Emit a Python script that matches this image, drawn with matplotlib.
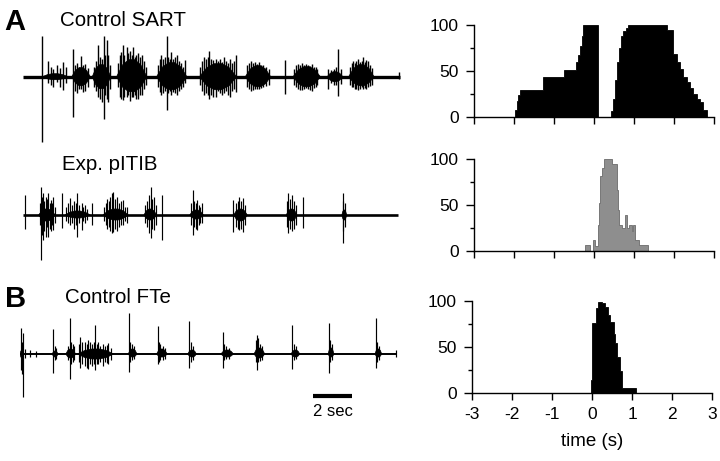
import matplotlib
matplotlib.use('Agg')
import matplotlib.pyplot as plt
from matplotlib.ticker import MultipleLocator

plt.rcParams['font.family'] = ['Liberation Sans', 'DejaVu Sans']

# ---------------- data: histograms (percent of cycles vs time, s) ----------------
sart_edges = [-1.97, -1.93, -1.89, -1.85, -1.27, -0.75, -0.45, -0.40, -0.35, -0.31, -0.27,
              0.11, 0.43, 0.47, 0.52, 0.57, 0.62, 0.67, 0.73, 0.79, 0.86, 1.82, 1.98,
              2.07, 2.15, 2.23, 2.32, 2.40, 2.48, 2.57, 2.65, 2.73, 2.82]
sart_vals = [8, 17, 24, 29, 44, 51, 60, 67, 77, 88, 100, 0, 6, 20, 40, 60, 75, 88, 94, 97,
             100, 95, 69, 60, 52, 44, 38, 31, 25, 20, 16, 8]

pitib_edges = [-0.225, -0.10, -0.03, 0.025, 0.09, 0.12, 0.15, 0.19, 0.26, 0.46, 0.57, 0.60,
               0.625, 0.70, 0.775, 0.82, 0.88, 0.94, 0.98, 1.025, 1.13, 1.34]
pitib_vals = [6, 0, 12, 5, 28, 52, 81, 90, 100, 95, 66, 45, 28, 25, 39, 25, 28, 22, 28, 12, 6]

fte_edges = [-0.03, 0.0, 0.09, 0.15, 0.235, 0.32, 0.38, 0.44, 0.53, 0.57, 0.61, 0.68, 0.73, 1.09]
fte_vals = [14, 76, 92, 99, 97, 93, 84, 77, 64, 54, 39, 24, 5]

hist_xticks = [-3, -2, -1, 0, 1, 2, 3]
hist_xlabels = ['-3', '-2', '-1', '0', '1', '2', '3']
hist_yticks = [0, 50, 100]

# ---------------- data: nerve recordings (time s, amplitude a.u.) ----------------
# burst cores: (start, end, upper, lower)
sart_bursts = [(1.0, 2.3, 3, 3), (2.5, 3.45, 9, 9), (3.55, 4.5, 12, 12), (4.8, 6.35, 17, 15),
               (6.85, 8.4, 14, 13), (9.05, 10.95, 13, 13), (11.4, 12.7, 11, 10),
               (13.85, 15.25, 10, 10), (15.6, 16.4, 5, 5), (16.7, 18.0, 12, 9)]
# single spikes: (time, up, down)
sart_spikes = [
    (0.96, 41, 65), (1.30, 16, 6), (1.45, 10, 8), (1.55, 8, 10), (1.73, 12, 5), (1.90, 9, 10),
    (2.07, 15, 13), (2.2, 10, 6),
    (2.55, 28, 40), (2.65, 12, 14), (2.75, 14, 16), (2.85, 10, 12), (2.97, 21, 12),
    (3.08, 12, 15), (3.2, 13, 14), (3.32, 9, 10),
    (3.62, 10, 10), (3.75, 16, 14), (3.86, 32, 20), (3.95, 20, 22), (4.05, 18, 25),
    (4.15, 41, 42), (4.22, 22, 18), (4.29, 37, 22), (4.38, 22, 25), (4.45, 12, 12),
    (4.85, 14, 10), (4.95, 22, 20), (5.0, 25, 22), (5.11, 32, 23), (5.2, 22, 20),
    (5.32, 30, 20), (5.4, 24, 18), (5.5, 26, 24), (5.58, 22, 20), (5.66, 30, 20),
    (5.75, 20, 18), (5.82, 22, 22), (5.9, 24, 22), (6.0, 20, 18), (6.1, 22, 18),
    (6.2, 16, 12), (6.3, 10, 8),
    (6.9, 12, 10), (7.0, 18, 15), (7.1, 22, 18), (7.2, 18, 16), (7.28, 20, 14),
    (7.37, 41, 33), (7.45, 20, 16), (7.55, 18, 14), (7.6, 25, 18), (7.7, 18, 15),
    (7.8, 20, 16), (7.9, 22, 18), (8.0, 16, 14), (8.1, 14, 12), (8.2, 10, 10), (8.31, 17, 6),
    (9.1, 10, 8), (9.2, 16, 14), (9.3, 20, 18), (9.4, 18, 16), (9.48, 20, 18),
    (9.56, 26, 22), (9.65, 18, 18), (9.75, 17, 20), (9.9, 18, 20), (10.0, 16, 14),
    (10.1, 18, 16), (10.2, 15, 18), (10.3, 20, 16), (10.4, 16, 14), (10.5, 14, 18),
    (10.6, 18, 20), (10.7, 14, 14), (10.8, 16, 12), (10.92, 22, 15),
    (11.5, 12, 10), (11.6, 14, 12), (11.7, 16, 14), (11.8, 14, 13), (11.9, 15, 12),
    (12.0, 13, 12), (12.1, 15, 12), (12.2, 12, 11), (12.3, 12, 10), (12.45, 10, 9),
    (12.6, 8, 8), (13.44, 17, 17),
    (13.9, 8, 8), (14.0, 12, 10), (14.1, 13, 12), (14.2, 12, 13), (14.3, 14, 13),
    (14.4, 12, 12), (14.5, 13, 11), (14.6, 12, 12), (14.7, 11, 13), (14.8, 13, 14),
    (14.9, 10, 11), (15.0, 10, 10), (15.1, 8, 8),
    (15.66, 8, 12), (15.8, 7, 6), (15.95, 8, 8), (16.05, 10, 8), (16.17, 28, 19), (16.3, 8, 7),
    (16.75, 10, 8), (16.85, 14, 10), (16.9, 16, 10), (17.0, 14, 12), (17.1, 16, 12),
    (17.2, 18, 13), (17.3, 15, 12), (17.38, 16, 10), (17.45, 20, 12), (17.55, 15, 11),
    (17.6, 17, 12), (17.7, 16, 10), (17.8, 12, 9), (17.9, 9, 8), (19.3, 5, 2)]
sart_end = 19.33

pitib_bursts = [(0.8, 1.65, 6, 6), (2.15, 3.45, 4, 3), (4.1, 5.4, 6, 5), (6.2, 6.85, 6, 5),
                (8.55, 9.25, 5, 4), (10.8, 11.5, 6, 6), (13.5, 14.05, 6, 6), (16.35, 16.6, 5, 5)]
pitib_spikes = [
    (0.12, 20, 14),
    (0.85, 12, 10), (0.91, 28, 45), (0.97, 18, 20), (1.04, 22, 25), (1.1, 14, 16),
    (1.18, 18, 22), (1.24, 16, 12), (1.30, 22, 22), (1.38, 12, 14), (1.45, 15, 16),
    (1.5, 12, 10), (1.56, 18, 15), (1.62, 8, 8), (1.98, 22, 13),
    (2.2, 8, 6), (2.3, 12, 8), (2.41, 17, 10), (2.5, 10, 8), (2.6, 14, 14), (2.7, 12, 10),
    (2.79, 22, 22), (2.88, 10, 8), (3.01, 12, 15), (3.1, 8, 6), (3.2, 10, 8), (3.3, 6, 5),
    (3.52, 12, 10),
    (4.15, 8, 6), (4.25, 12, 10), (4.3, 16, 14), (4.4, 14, 12), (4.48, 18, 16),
    (4.55, 22, 18), (4.63, 23, 17), (4.7, 16, 14), (4.8, 18, 16), (4.9, 12, 12),
    (5.0, 14, 10), (5.15, 15, 10), (5.25, 8, 6), (5.35, 8, 8),
    (6.25, 10, 8), (6.35, 14, 12), (6.45, 20, 18), (6.55, 28, 23), (6.62, 16, 14),
    (6.7, 18, 15), (6.8, 10, 10), (7.15, 20, 25),
    (8.6, 12, 10), (8.70, 25, 20), (8.78, 14, 12), (8.85, 12, 14), (8.9, 15, 15),
    (9.0, 10, 10), (9.1, 8, 8), (9.16, 12, 8),
    (10.79, 15, 17), (10.9, 12, 12), (11.0, 14, 14), (11.1, 18, 15), (11.2, 14, 14),
    (11.3, 17, 17), (11.4, 10, 10),
    (13.55, 14, 12), (13.6, 22, 18), (13.7, 16, 14), (13.8, 20, 16), (13.9, 14, 14),
    (14.0, 10, 10), (14.34, 18, 13),
    (16.4, 14, 16), (16.43, 22, 28), (16.5, 12, 12)]
pitib_end = 19.25

fte_bursts = [(0.0, 0.2, 4, 4), (1.65, 1.95, 3, 3), (2.35, 2.85, 5, 4), (2.95, 4.8, 5, 5),
              (5.55, 6.0, 5, 3), (7.0, 7.55, 5, 3), (8.6, 9.05, 4, 3), (10.3, 10.95, 4, 3),
              (12.0, 12.55, 6, 4), (13.9, 14.35, 4, 3), (15.8, 16.1, 6, 3), (18.2, 18.55, 5, 3)]
fte_spikes = [
    (0.05, 26, 16), (0.1, 12, 20), (0.14, 21, 43), (0.25, 5, 4), (0.5, 4, 3), (0.8, 3, 3),
    (1.71, 25, 19), (1.78, 8, 6), (1.85, 6, 5),
    (2.45, 8, 6), (2.56, 36, 25), (2.62, 12, 10), (2.7, 10, 8), (2.78, 8, 6),
    (3.02, 10, 8), (3.08, 17, 14), (3.2, 12, 10), (3.33, 12, 12), (3.42, 10, 14),
    (3.50, 14, 15), (3.6, 12, 10), (3.7, 10, 12), (3.78, 12, 10), (3.86, 29, 16),
    (3.95, 10, 10), (4.02, 12, 10), (4.12, 8, 8), (4.25, 10, 12), (4.35, 8, 8),
    (4.44, 9, 9), (4.53, 11, 10), (4.65, 6, 6),
    (5.59, 41, 18), (5.65, 12, 8), (5.75, 10, 6), (5.85, 8, 5),
    (7.06, 28, 10), (7.12, 12, 8), (7.2, 10, 6), (7.35, 8, 6), (7.45, 6, 5),
    (8.68, 33, 14), (8.75, 12, 8), (8.85, 8, 6),
    (10.39, 22, 14), (10.45, 10, 6), (10.55, 8, 5), (10.7, 6, 5),
    (12.08, 14, 8), (12.14, 19, 16), (12.2, 16, 8), (12.3, 10, 7), (12.4, 8, 6),
    (13.97, 29, 15), (14.05, 10, 6), (14.15, 8, 5),
    (15.86, 31, 19), (15.92, 14, 8), (16.0, 10, 6),
    (18.24, 36, 14), (18.3, 12, 8), (18.4, 8, 6), (19.3, 4, 3)]
fte_end = 19.32

scalebar_t = [15.04, 17.04]   # 2 sec

# ---------------- layout helpers ----------------
W, H = 720, 461
fig = plt.figure(figsize=(7.2, 4.61), dpi=100)


def box(x0, y0, w, h):
    return [x0 / W, 1 - (y0 + h) / H, w / W, h / H]


def trace_axes(x0, ybase, bursts, spikes, tend, base_lw, spk_lw):
    ax = fig.add_axes(box(x0, ybase - 50, 390, 120))
    ax.set_xlim(0, 20)
    ax.set_ylim(-70, 50)
    ax.axis('off')
    ax.plot([0, tend], [0, 0], color='black', lw=base_lw, solid_capstyle='butt')
    for a, b, u, d in bursts:
        w = b - a
        xs = [a, a + 0.2 * w, a + 0.4 * w, b - 0.4 * w, b - 0.2 * w, b,
              b - 0.2 * w, b - 0.4 * w, a + 0.4 * w, a + 0.2 * w]
        ys = [0, 0.7 * u, u, u, 0.7 * u, 0, -0.7 * d, -d, -d, -0.7 * d]
        ax.fill(xs, ys, color='black', lw=0.5)
    st = [s[0] for s in spikes]
    su = [s[1] for s in spikes]
    sd = [-s[2] for s in spikes]
    ax.vlines(st, sd, su, color='black', lw=spk_lw)
    return ax


ax1 = trace_axes(23, 76.7, sart_bursts, sart_spikes, sart_end, 2.4, 1.0)
ax2 = trace_axes(23, 215, pitib_bursts, pitib_spikes, pitib_end, 1.9, 0.85)
ax3 = trace_axes(20, 354, fte_bursts, fte_spikes, fte_end, 1.4, 0.85)
ax3.plot(scalebar_t, [-41.7, -41.7], color='black', lw=3.0, solid_capstyle='butt')
ax3.text(sum(scalebar_t) / 2, -50, '2 sec', ha='center', va='top', fontsize=12)


def ptext(x, y, s, **kw):
    fig.text(x / W, 1 - y / H, s, va='baseline', ha='left', **kw)


ptext(4, 30, 'A', fontsize=21, fontweight='bold')
ptext(60, 26, 'Control SART', fontsize=14.8)
ptext(62, 170.5, 'Exp. pITIB', fontsize=14.8)
ptext(5, 307, 'B', fontsize=21, fontweight='bold')
ptext(65, 303, 'Control FTe', fontsize=14.8)


def hist_axes(x0, ytop, edges, vals, fc, ec, show_x):
    ax = fig.add_axes(box(x0, ytop, 240, 92))
    ax.stairs(vals, edges, fill=True, facecolor=fc, edgecolor=ec, lw=0.6)
    ax.set_xlim(-3, 3)
    ax.set_ylim(0, 100)
    for s in ['top', 'right']:
        ax.spines[s].set_visible(False)
    for s in ['left', 'bottom']:
        ax.spines[s].set_linewidth(1.0)
    ax.set_xticks(hist_xticks)
    ax.set_yticks(hist_yticks)
    ax.yaxis.set_minor_locator(MultipleLocator(25))
    ax.tick_params(axis='y', which='major', length=6, width=1.0, labelsize=12.5, pad=5)
    ax.tick_params(axis='y', which='minor', length=3, width=1.0)
    ax.tick_params(axis='x', which='major', length=5, width=1.0, labelsize=12.5, pad=5)
    if show_x:
        ax.set_xticklabels(hist_xlabels)
        ax.set_xlabel('time (s)', fontsize=13.5, labelpad=8)
    else:
        ax.set_xticklabels([])
    return ax


hist_axes(474, 25, sart_edges, sart_vals, 'black', 'black', False)
hist_axes(474, 159, pitib_edges, pitib_vals, '#8e8e8e', '#6a6a6a', False)
hist_axes(472.3, 300.7, fte_edges, fte_vals, 'black', 'black', True)

fig.savefig('out.png', dpi=100)
